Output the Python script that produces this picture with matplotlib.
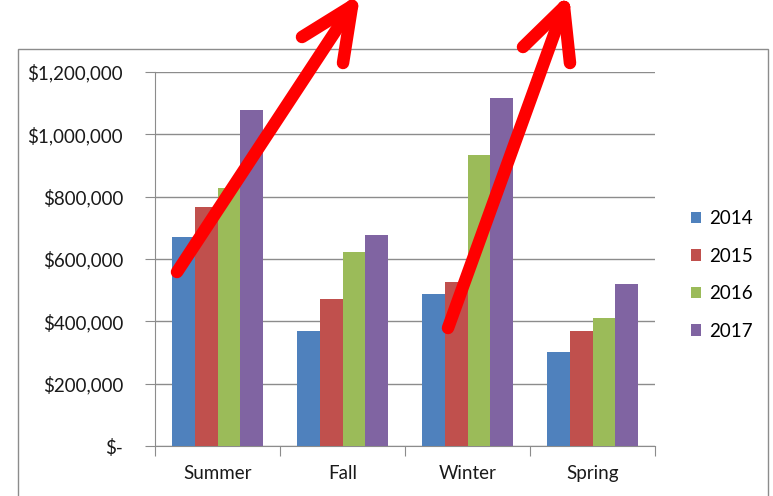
import matplotlib
matplotlib.use("Agg")
import matplotlib.pyplot as plt
from matplotlib.lines import Line2D
from matplotlib.patches import Rectangle
import numpy as np

seasons = ["Summer", "Fall", "Winter", "Spring"]
years = ["2014", "2015", "2016", "2017"]
sales_2014 = [672000, 368000, 489000, 303000]
sales_2015 = [768000, 472000, 525000, 369000]
sales_2016 = [829000, 623000, 933000, 412000]
sales_2017 = [1078000, 676000, 1117000, 521000]
colors = ["#4F81BD", "#C0504D", "#9BBB59", "#8064A2"]
yticks = [0, 200000, 400000, 600000, 800000, 1000000, 1200000]

# hand-drawn red arrows on top of the chart (figure pixels, from top-left)
arrows = [
    {"tail": (177, 272), "tip": (352, 6), "head": [(302, 37), (343, 63)]},
    {"tail": (448, 328), "tip": (564, 7), "head": [(523, 47), (570, 63)]},
]

W, H = 773, 496
plt.rcParams["font.family"] = ["Lato", "DejaVu Sans"]
fig = plt.figure(figsize=(W / 100, H / 100), dpi=100)
ax = fig.add_axes((155 / W, 1 - 446 / H, 500 / W, 374 / H))

series = [sales_2014, sales_2015, sales_2016, sales_2017]
x = np.arange(len(seasons))
bw = 0.182
for i, (vals, c, lab) in enumerate(zip(series, colors, years)):
    ax.bar(x + (i - 1.5) * bw, vals, width=bw, color=c, label=lab, zorder=3)

grid_c = "#8c8c8c"
txt_c = "#1a1a1a"
ax.set_xlim(-0.5, len(seasons) - 0.5)
ax.set_ylim(0, 1200000)
ax.set_yticks(yticks)
ax.set_yticklabels(["$-" if v == 0 else f"${v:,.0f}" for v in yticks])
ax.set_xticks(np.arange(len(seasons) + 1) - 0.5, minor=False)
ax.set_xticks(x, minor=True)
ax.set_xticklabels([""] * (len(seasons) + 1))
ax.set_xticklabels(seasons, minor=True)
ax.tick_params(axis="x", which="major", length=7, color=grid_c, direction="out")
ax.tick_params(axis="x", which="minor", length=0, pad=14, labelsize=13.5, colors=txt_c)
ax.tick_params(axis="y", length=7, color=grid_c, pad=16, labelsize=13.5, labelcolor=txt_c)
ax.yaxis.grid(True, color=grid_c, linewidth=1, zorder=0)
for s in ["top", "right"]:
    ax.spines[s].set_visible(False)
for s in ["left", "bottom"]:
    ax.spines[s].set_color(grid_c)

leg = fig.legend(loc="upper left", bbox_to_anchor=(674 / W, 1 - 193 / H), frameon=False,
                 fontsize=13.5, handlelength=0.55, handleheight=0.55, handletextpad=0.4,
                 labelspacing=1.1)

fig.patches.append(Rectangle((18 / W, -0.01), 750 / W, 1 - 49 / H + 0.01, transform=fig.transFigure,
                             fill=False, edgecolor="#8c8c8c", linewidth=1))

def fp(p):
    return (p[0] / W, 1 - p[1] / H)

for a in arrows:
    segs = [(a["tail"], a["tip"])] + [(h, a["tip"]) for h in a["head"]]
    for p0, p1 in segs:
        (x0, y0), (x1, y1) = fp(p0), fp(p1)
        fig.add_artist(Line2D([x0, x1], [y0, y1], transform=fig.transFigure, color="#ff0000",
                              linewidth=9, solid_capstyle="round", solid_joinstyle="round", zorder=10))

fig.savefig("out.png", dpi=100)
